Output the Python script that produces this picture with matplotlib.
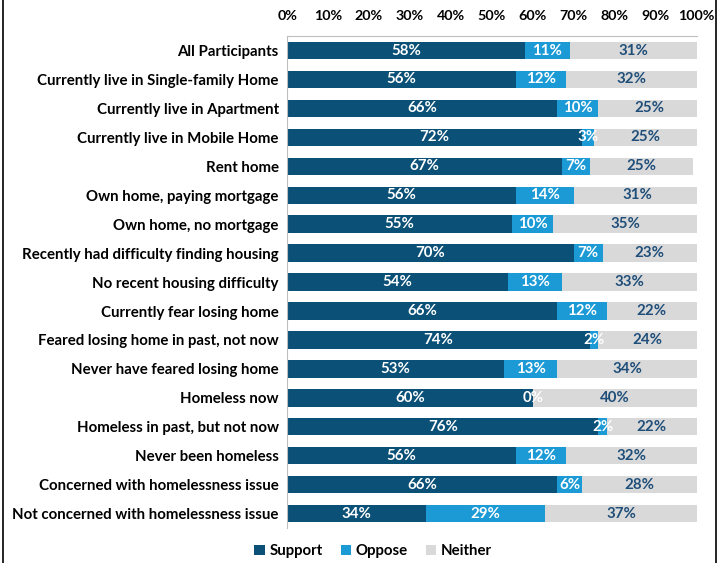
import numpy as np
import matplotlib.pyplot as plt
from matplotlib.patches import Rectangle

categories = [
    "All Participants",
    "Currently live in Single-family Home",
    "Currently live in Apartment",
    "Currently live in Mobile Home",
    "Rent home",
    "Own home, paying mortgage",
    "Own home, no mortgage",
    "Recently had difficulty finding housing",
    "No recent housing difficulty",
    "Currently fear losing home",
    "Feared losing home in past, not now",
    "Never have feared losing home",
    "Homeless now",
    "Homeless in past, but not now",
    "Never been homeless",
    "Concerned with homelessness issue",
    "Not concerned with homelessness issue",
]
support = [58, 56, 66, 72, 67, 56, 55, 70, 54, 66, 74, 53, 60, 76, 56, 66, 34]
oppose = [11, 12, 10, 3, 7, 14, 10, 7, 13, 12, 2, 13, 0, 2, 12, 6, 29]
neither = [31, 32, 25, 25, 25, 31, 35, 23, 33, 22, 24, 34, 40, 22, 32, 28, 37]

c_sup = "#0b5077"
c_opp = "#1c9ad6"
c_nei = "#d9d9d9"
c_txt = "#1f4e79"

plt.rcParams['font.family'] = ['Lato', 'DejaVu Sans']
plt.rcParams['font.weight'] = 'bold'

fig = plt.figure(figsize=(7.25, 5.63), dpi=100)
ax = fig.add_axes([0.396, 0.062, 0.565, 0.874])

y = np.arange(len(categories))
h = 0.6
s = np.array(support, float)
o = np.array(oppose, float)
n = np.array(neither, float)
ax.barh(y, s, height=h, color=c_sup, label="Support")
ax.barh(y, o, left=s, height=h, color=c_opp, label="Oppose")
ax.barh(y, n, left=s + o, height=h, color=c_nei, label="Neither")

fs = 10.8
for i in range(len(categories)):
    ax.text(s[i] / 2, y[i], f"{support[i]}%", ha="center", va="center",
            color="white", fontsize=fs, fontweight="bold")
    ax.text(s[i] + o[i] / 2, y[i], f"{oppose[i]}%", ha="center", va="center",
            color="white", fontsize=fs, fontweight="bold")
    ax.text(s[i] + o[i] + n[i] / 2, y[i], f"{neither[i]}%", ha="center", va="center",
            color=c_txt, fontsize=fs, fontweight="bold")

ax.set_xlim(0, 100)
ax.set_ylim(len(categories) - 0.5, -0.5)
ax.xaxis.tick_top()
ax.set_xticks(np.arange(0, 101, 10))
ax.set_xticklabels([f"{v}%" for v in range(0, 101, 10)], fontsize=10.3, fontweight="bold")
ax.tick_params(axis="x", length=0, pad=10)
ax.set_yticks(y)
ax.set_yticklabels(categories, fontsize=fs, fontweight="bold")
ax.tick_params(axis="y", length=0, pad=6)
for sp in ["right", "bottom"]:
    ax.spines[sp].set_visible(False)
ax.spines["top"].set_color("#bfbfbf")
ax.spines["left"].set_color("#bfbfbf")

ax.legend(loc="upper center", bbox_to_anchor=(0.21, -0.005), ncol=3, frameon=False,
          fontsize=fs, handlelength=0.7, handleheight=0.7, handletextpad=0.3,
          columnspacing=1.2)

fig.add_artist(Rectangle((0.004, -0.01), 0.984, 1.02, transform=fig.transFigure,
                         fill=False, edgecolor="black", linewidth=1.2))

fig.savefig("out.png", dpi=100)
